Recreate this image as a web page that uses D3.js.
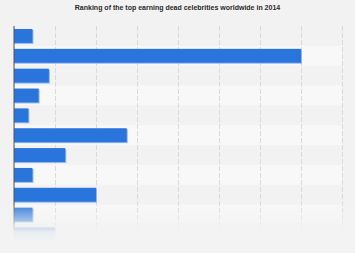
<!DOCTYPE html>
<html>
<head>
<meta charset="utf-8">
<script src="https://cdn.jsdelivr.net/npm/d3@7"></script>
<style>
  body { margin: 0; background: #f2f2f2; }
  svg { display: block; font-family: "Liberation Sans", Arial, sans-serif; }
  .grid line { stroke: #dadada; stroke-dasharray: 5,2; }
  .grid .domain { display: none; }
</style>
</head>
<body>
<svg id="chart"></svg>
<script>
// Chart size
const width = 355;
const height = 253;
const margin = { top: 26, right: 13, bottom: 8, left: 14 };

// Data (values in million US dollars)
const celebrities = ["Albert Einstein", "Michael Jackson", "Bettie Page", "John Lennon", "Paul Walker",
    "Elvis Presley", "Elizabeth Taylor", "Theodor Geisel", "Charles Schulz", "Steve McQueen", "Bob Marley"];
const earnings = [9, 140, 17, 12, 7, 55, 25, 9, 40, 9, 20];
const xTicks = [0, 20, 40, 60, 80, 100, 120, 140, 160];

const svg = d3.select("#chart")
    .attr("width", width)
    .attr("height", height);

// Title
svg.append("text")
    .attr("x", width / 2)
    .attr("y", 10)
    .attr("text-anchor", "middle")
    .style("font-size", "7px")
    .style("font-weight", "bold")
    .style("fill", "#2a2a2a")
    .text("Ranking of the top earning dead celebrities worldwide in 2014");

const x = d3.scaleLinear()
    .domain([0, 160])
    .range([margin.left, width - margin.right]);

const y = d3.scaleBand()
    .domain(celebrities)
    .range([margin.top, margin.top + celebrities.length * 19.85])
    .paddingInner(0.3)
    .paddingOuter(0.15);

// Alternating row stripes
svg.append("g")
    .selectAll("rect")
    .data(celebrities)
    .enter().append("rect")
    .attr("x", margin.left)
    .attr("y", d => y(d) - y.step() * y.paddingInner() / 2)
    .attr("width", x(160) - margin.left)
    .attr("height", y.step())
    .attr("fill", (d, i) => i % 2 ? "#f8f8f8" : "#f2f2f2");

// Dashed vertical gridlines
svg.append("g")
    .attr("class", "grid")
    .attr("transform", `translate(0,${margin.top})`)
    .call(d3.axisBottom(x).tickValues(xTicks).tickSize(celebrities.length * 19.85).tickFormat(""));

// Bars with a light bottom edge
const bars = svg.append("g");
bars.selectAll(".bar-edge")
    .data(earnings)
    .enter().append("rect")
    .attr("class", "bar-edge")
    .attr("x", x(0))
    .attr("y", (d, i) => y(celebrities[i]) + 1)
    .attr("width", d => x(d) - x(0) + 1)
    .attr("height", y.bandwidth())
    .attr("fill", "#8db6ee");

bars.selectAll(".bar")
    .data(earnings)
    .enter().append("rect")
    .attr("class", "bar")
    .attr("x", x(0))
    .attr("y", (d, i) => y(celebrities[i]))
    .attr("width", d => x(d) - x(0))
    .attr("height", y.bandwidth())
    .attr("fill", "#2a75db");

// Axis line on the left
svg.append("line")
    .attr("x1", x(0))
    .attr("x2", x(0))
    .attr("y1", margin.top)
    .attr("y2", margin.top + celebrities.length * 19.85)
    .attr("stroke", "#555")
    .attr("stroke-width", 1);

// Fade-out at the bottom
const grad = svg.append("defs").append("linearGradient")
    .attr("id", "fade")
    .attr("x1", 0).attr("y1", 0).attr("x2", 0).attr("y2", 1);
grad.append("stop").attr("offset", "0%").attr("stop-color", "#f3f3f3").attr("stop-opacity", 0);
grad.append("stop").attr("offset", "75%").attr("stop-color", "#f3f3f3").attr("stop-opacity", 0.95);
grad.append("stop").attr("offset", "100%").attr("stop-color", "#f3f3f3").attr("stop-opacity", 1);

svg.append("rect")
    .attr("x", 0)
    .attr("y", 202)
    .attr("width", width)
    .attr("height", 40)
    .attr("fill", "url(#fade)");
svg.append("rect")
    .attr("x", 0)
    .attr("y", 242)
    .attr("width", width)
    .attr("height", height - 242)
    .attr("fill", "#f3f3f3");
</script>
</body>
</html>
